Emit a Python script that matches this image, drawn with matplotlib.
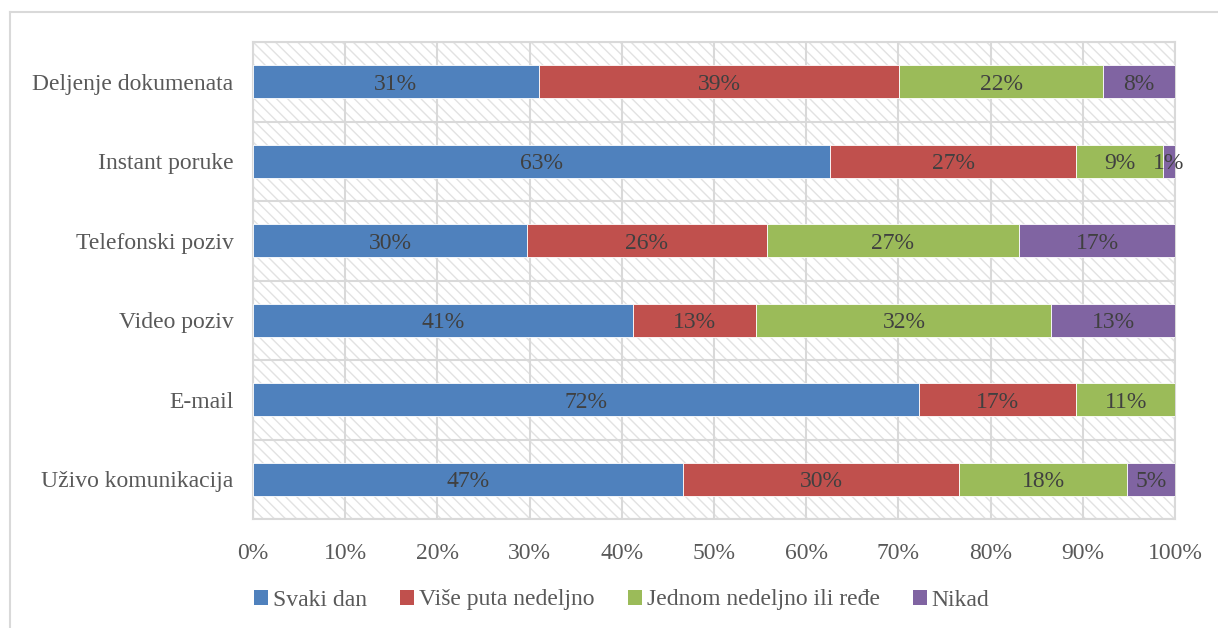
import matplotlib
matplotlib.use("Agg")
import matplotlib.pyplot as plt
from matplotlib.patches import Rectangle
from matplotlib.lines import Line2D
import numpy as np

categories = ["Deljenje dokumenata", "Instant poruke", "Telefonski poziv",
              "Video poziv", "E-mail", "Uživo komunikacija"]
series_names = ["Svaki dan", "Više puta nedeljno", "Jednom nedeljno ili ređe", "Nikad"]
svaki_dan = [31.0, 62.6, 29.7, 41.2, 72.2, 46.6]
vise_puta = [39.1, 26.7, 26.0, 13.4, 17.1, 30.0]
jednom = [22.1, 9.4, 27.4, 32.0, 10.7, 18.2]
nikad = [7.8, 1.3, 16.9, 13.4, 0.0, 5.2]
labels = [
    ["31%", "63%", "30%", "41%", "72%", "47%"],
    ["39%", "27%", "26%", "13%", "17%", "30%"],
    ["22%", "9%", "27%", "32%", "11%", "18%"],
    ["8%", "1%", "17%", "13%", "", "5%"],
]
colors = ["#4F81BD", "#C0504D", "#9BBB59", "#8064A2"]
xticks = np.arange(0, 101, 10)

plt.rcParams['font.family'] = ['Liberation Serif', 'DejaVu Serif']
plt.rcParams['hatch.linewidth'] = 1.0

FS = 17
W, H = 1218, 628
fig = plt.figure(figsize=(W / 100, H / 100), dpi=100)
ax = fig.add_axes([253 / W, 1 - 519 / H, (1175 - 253) / W, (519 - 42) / H])

n = len(categories)
y = np.arange(n)[::-1]
ax.set_xlim(0, 100)
ax.set_ylim(-0.5, n - 0.5)

# hatched background
bg = Rectangle((0, 0), 1, 1, transform=ax.transAxes, facecolor="white",
               edgecolor="#e2e2e2", hatch="\\\\\\", linewidth=0, zorder=0)
ax.add_patch(bg)

gridc = "#d9d9d9"
for xv in xticks:
    ax.axvline(xv, color=gridc, lw=1.5, zorder=1)
for yb in np.arange(-0.5, n, 1.0):
    ax.axhline(yb, color=gridc, lw=1.5, zorder=1)

data = [svaki_dan, vise_puta, jednom, nikad]
left = np.zeros(n)
for s, (vals, col, lab) in enumerate(zip(data, colors, labels)):
    vals = np.array(vals)
    ax.barh(y, vals, left=left, height=0.41, color=col, edgecolor="white",
            linewidth=0.6, zorder=3, label=series_names[s])
    for i in range(n):
        if lab[i]:
            ax.text(left[i] + vals[i] / 2, y[i], lab[i], ha="center",
                    va="center_baseline", fontsize=FS, color="#404040", zorder=4)
    left += vals

for sp in ax.spines.values():
    sp.set_color(gridc)
    sp.set_linewidth(1.5)
ax.set_yticks(y)
ax.set_yticklabels(categories, fontsize=FS, color="#595959")
ax.set_xticks(xticks)
ax.set_xticklabels([f"{v}%" for v in xticks], fontsize=FS, color="#595959")
ax.tick_params(length=0, pad=14)
ax.tick_params(axis="x", pad=17)

handles = [Rectangle((0, 0), 1, 1, facecolor=c, edgecolor="none") for c in colors]
fig.legend(handles, series_names, loc="center left", bbox_to_anchor=(233 / W, 1 - 600 / H),
           ncol=4, frameon=False, fontsize=FS, labelcolor="#595959",
           handlelength=0.6, handleheight=0.6, handletextpad=0.2, columnspacing=1.4)

# outer frame lines
fig.add_artist(Line2D([10 / W, 10 / W], [0, 1 - 12 / H], transform=fig.transFigure,
                      color="#d9d9d9", lw=1.5))
fig.add_artist(Line2D([10 / W, 1], [1 - 12 / H, 1 - 12 / H], transform=fig.transFigure,
                      color="#d9d9d9", lw=1.5))

fig.savefig("out.png", dpi=100)
